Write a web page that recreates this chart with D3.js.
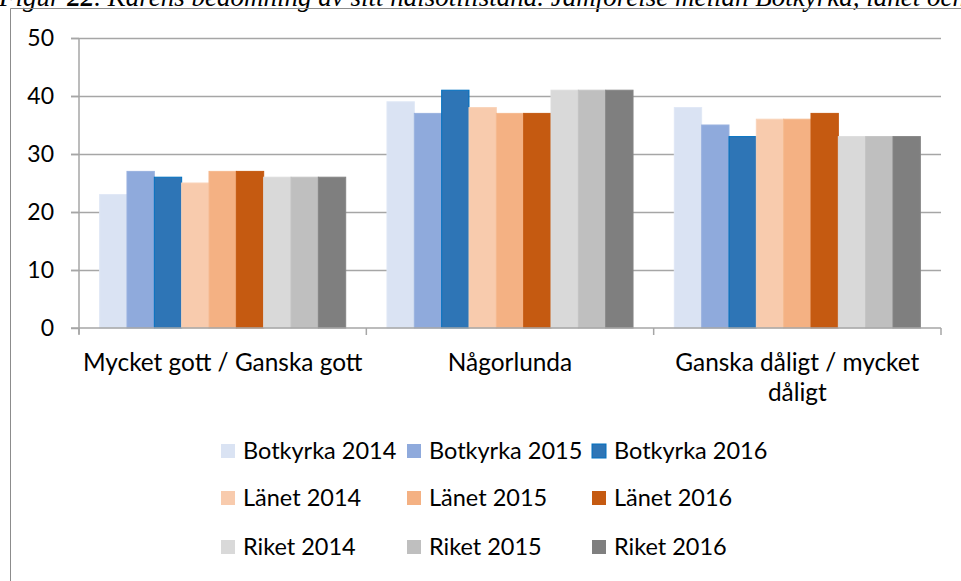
<!DOCTYPE html>
<html><head><meta charset="utf-8">
<script src="https://cdn.jsdelivr.net/npm/d3@7"></script>
<style>
html,body{margin:0;padding:0;background:#fff;overflow:hidden}
svg{display:block}
</style></head>
<body>
<svg id="chart" width="961" height="581"></svg>
<script>
const categories = ["Mycket gott / Ganska gott", "Någorlunda", "Ganska dåligt / mycket dåligt"];
const seriesNames = ["Botkyrka 2014","Botkyrka 2015","Botkyrka 2016","Länet 2014","Länet 2015","Länet 2016","Riket 2014","Riket 2015","Riket 2016"];
const botkyrka2014 = [23, 39, 38];
const botkyrka2015 = [27, 37, 35];
const botkyrka2016 = [26, 41, 33];
const lanet2014 = [25, 38, 36];
const lanet2015 = [27, 37, 36];
const lanet2016 = [27, 37, 37];
const riket2014 = [26, 41, 33];
const riket2015 = [26, 41, 33];
const riket2016 = [26, 41, 33];
const yTicks = [0, 10, 20, 30, 40, 50];
const colors = ["#dae3f3","#8faadc","#2e75b6","#f8cbad","#f4b183","#c55a11","#d9d9d9","#bfbfbf","#7f7f7f"];
const strokes = ["#dfe7f5","#9ab2df","#0070c0","#f9d3b9","#f5b98e","#c55a11","#dcdcdc","#c3c3c3","#858585"];

const values = [botkyrka2014,botkyrka2015,botkyrka2016,lanet2014,lanet2015,lanet2016,riket2014,riket2015,riket2016];

const svg = d3.select("#chart");
const font = "Lato, 'Open Sans', sans-serif";
const gridColor = "#a6a6a6";

// caption (clipped at top, as in the reference)
const cap = svg.append("text").attr("x", -1).attr("y", 6)
  .attr("font-family", "'Liberation Serif', 'Times New Roman', serif")
  .attr("font-style", "italic").attr("font-size", 27).attr("fill", "#000");
cap.append("tspan").text("Figur ");
cap.append("tspan").attr("font-weight", "bold").text("22");
cap.append("tspan").text(". Kårens bedömning av sitt hälsotillstånd. Jämförelse mellan Botkyrka, länet och riket");

// frame
svg.append("path").attr("d", "M10.5,581 V8.5 H961").attr("fill", "none").attr("stroke", "#8c8c8c").attr("stroke-width", 1);

const x0 = d3.scaleBand().domain(categories).range([79, 941]).padding(0);
const x1 = d3.scaleBand().domain(seriesNames).range([0, x0.bandwidth()]).paddingInner(0).paddingOuter(0.755);
const y = d3.scaleLinear().domain([0, 50]).range([328, 38]);

// gridlines
svg.append("g").selectAll("line").data(yTicks.filter(d => d > 0)).join("line")
  .attr("x1", 71).attr("x2", 941)
  .attr("y1", d => Math.round(y(d)) + 0.5).attr("y2", d => Math.round(y(d)) + 0.5)
  .attr("stroke", gridColor).attr("stroke-width", 1.5);

// bars
const groups = svg.append("g").selectAll("g").data(categories).join("g")
  .attr("transform", c => `translate(${x0(c)},0)`);
groups.selectAll("rect").data((c, ci) => seriesNames.map((s, si) => ({s, si, v: values[si][ci]}))).join("rect")
  .attr("x", d => x1(d.s)).attr("width", x1.bandwidth())
  .attr("y", d => y(d.v)).attr("height", d => y(0) - y(d.v))
  .attr("fill", d => colors[d.si])
  .attr("stroke", d => strokes[d.si]).attr("stroke-width", 1);

// y axis
const yAxis = d3.axisLeft(y).tickValues(yTicks).tickSize(8).tickPadding(17);
const gy = svg.append("g").attr("transform", "translate(79,0)").call(yAxis);
gy.select(".domain").attr("stroke", gridColor).attr("stroke-width", 1.5).attr("d", "M0,38V334");
gy.selectAll(".tick line").attr("stroke", gridColor).attr("stroke-width", 1.5);
gy.selectAll(".tick text").attr("font-family", font).attr("font-size", 23).attr("fill", "#000");

// x axis
const xAxis = d3.axisBottom(x0).tickSize(0).tickFormat("");
const gx = svg.append("g").attr("transform", "translate(0,328)").call(xAxis);
gx.select(".domain").attr("stroke", gridColor).attr("stroke-width", 1.5).attr("d", "M71,0H941");
const bounds = [79].concat(categories.map(c => x0(c) + x0.bandwidth()));
gx.append("g").selectAll("line").data(bounds).join("line")
  .attr("x1", d => d).attr("x2", d => d).attr("y1", 0).attr("y2", 7)
  .attr("stroke", gridColor).attr("stroke-width", 1.5);

// category labels (wrapped)
const catLines = {"Ganska dåligt / mycket dåligt": ["Ganska dåligt / mycket", "dåligt"]};
categories.forEach(c => {
  const lines = catLines[c] || [c];
  const t = svg.append("text").attr("x", x0(c) + x0.bandwidth() / 2).attr("y", 371)
    .attr("text-anchor", "middle").attr("font-family", font).attr("font-size", 24.4).attr("fill", "#000");
  lines.forEach((l, i) => t.append("tspan").attr("x", x0(c) + x0.bandwidth() / 2).attr("dy", i === 0 ? 0 : 30).text(l));
});

// legend
const legCols = d3.scaleOrdinal().domain([0,1,2]).range([221, 407, 592]);
const legRows = d3.scaleOrdinal().domain([0,1,2]).range([451, 498, 547]);
const leg = svg.append("g").selectAll("g").data(seriesNames).join("g")
  .attr("transform", (d, i) => `translate(${legCols(i % 3)},${legRows(Math.floor(i / 3))})`);
leg.append("rect").attr("x", 0).attr("y", -7).attr("width", 14).attr("height", 14)
  .attr("fill", (d, i) => colors[i]).attr("stroke", (d, i) => i === 2 ? "#0070c0" : "none");
leg.append("text").attr("x", 22).attr("y", 0).attr("dy", "0.36em")
  .attr("font-family", font).attr("font-size", 23.5).attr("fill", "#000").text(d => d);
</script>
</body></html>
